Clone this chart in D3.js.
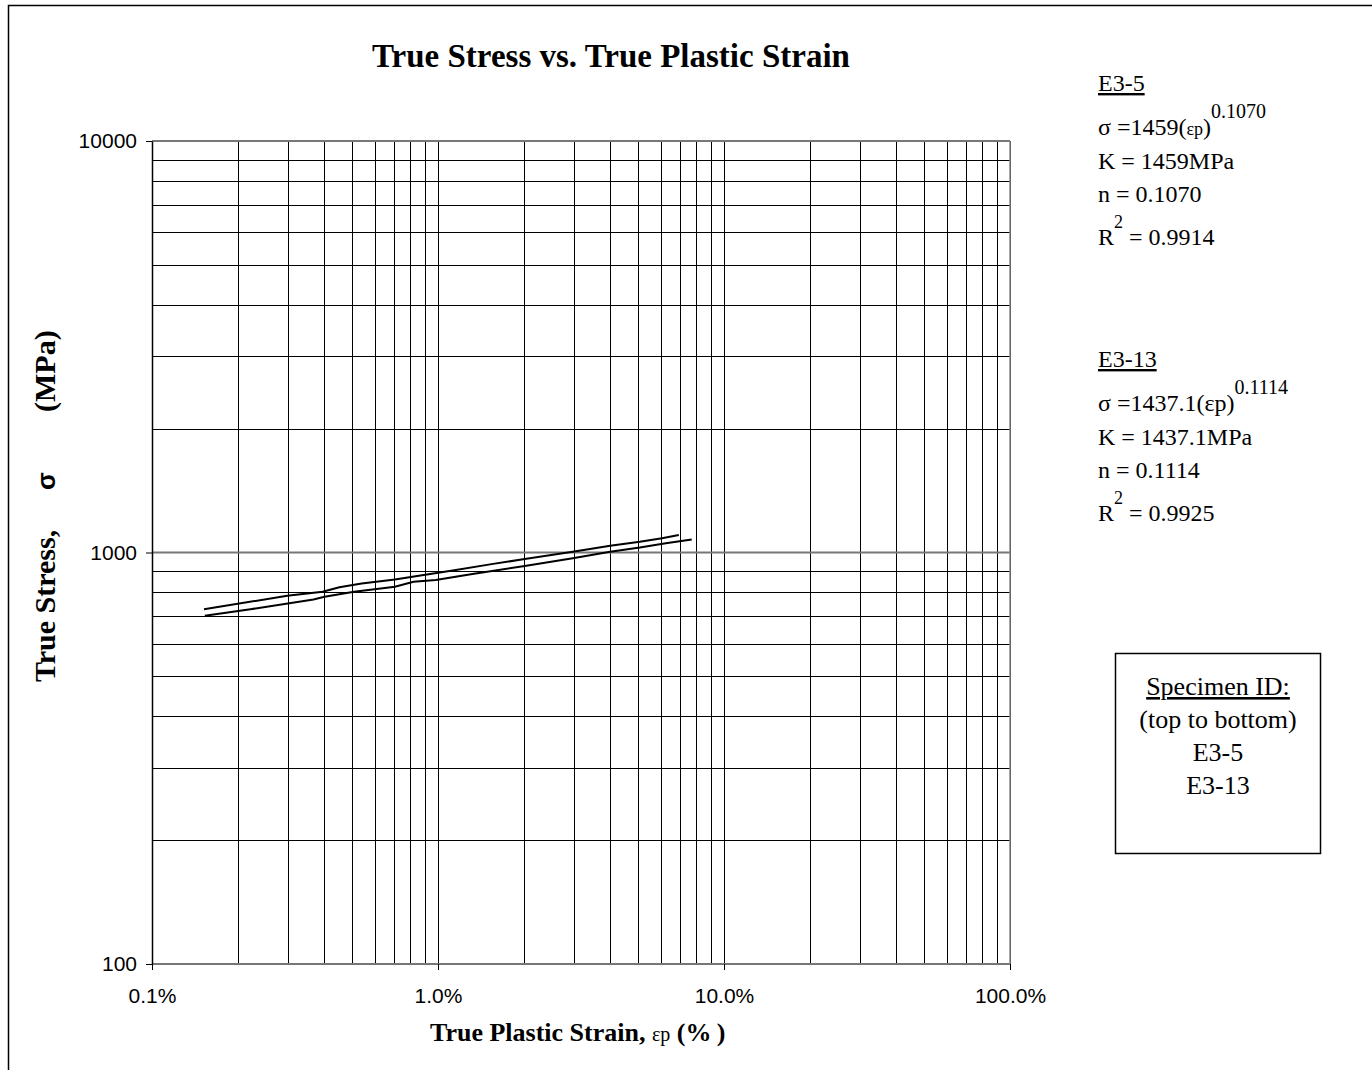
<!DOCTYPE html>
<html>
<head>
<meta charset="utf-8">
<script src="https://cdn.jsdelivr.net/npm/d3@7"></script>
<style>
body { margin: 0; background: #fff; }
svg { display: block; }
.serif { font-family: "Liberation Serif", "Times New Roman", serif; }
.sans { font-family: "Liberation Sans", Arial, sans-serif; }
</style>
</head>
<body>
<div id="chart"></div>
<script>
// strain values are fractions (0.001 = 0.1%), stress in MPa
var e35Strain = [0.00152, 0.00297, 0.00395, 0.00452, 0.00541, 0.00707, 0.00846, 0.0114, 0.0154, 0.0201, 0.0296, 0.0400, 0.0508, 0.0607, 0.0695];
var e35Stress = [728, 785, 803, 823, 841, 860, 877, 906, 937, 964, 1004, 1039, 1062, 1083, 1103];

var e313Strain = [0.00153, 0.00221, 0.00367, 0.00401, 0.00509, 0.00707, 0.00821, 0.00982, 0.0132, 0.0201, 0.0296, 0.0400, 0.0508, 0.0626, 0.0771];
var e313Stress = [702, 728, 769, 781, 803, 826, 849, 857, 887, 927, 968, 1004, 1028, 1053, 1076];

var xTicks = [0.001, 0.01, 0.1, 1];
var yTicks = [100, 1000, 10000];

var width = 1372, height = 1070;
var margin = {top: 141, right: 362, bottom: 106, left: 152};

var svg = d3.select("#chart")
	.append("svg")
	.attr("width", width)
	.attr("height", height);

// outer frame
svg.append("rect")
	.attr("x", 8.5).attr("y", 5.5)
	.attr("width", 1400).attr("height", 1100)
	.attr("fill", "none")
	.attr("stroke", "#000")
	.attr("stroke-width", 1.5);

var x = d3.scaleLog().domain([0.001, 1]).range([margin.left, width - margin.right]);
var y = d3.scaleLog().domain([100, 10000]).range([height - margin.bottom, margin.top]);

var x0 = x.range()[0], x1 = x.range()[1];
var y0 = y.range()[0], y1 = y.range()[1];

// gridlines
svg.append("g").selectAll("line")
	.data(x.ticks())
	.join("line")
	.attr("x1", function(d) { return Math.round(x(d)) + 0.5; })
	.attr("x2", function(d) { return Math.round(x(d)) + 0.5; })
	.attr("y1", y1).attr("y2", y0)
	.attr("stroke", "#000")
	.attr("stroke-width", 1);

svg.append("g").selectAll("line")
	.data(y.ticks().filter(function(d) { return yTicks.indexOf(d) < 0; }))
	.join("line")
	.attr("x1", x0).attr("x2", x1)
	.attr("y1", function(d) { return Math.round(y(d)) + 0.5; })
	.attr("y2", function(d) { return Math.round(y(d)) + 0.5; })
	.attr("stroke", "#000")
	.attr("stroke-width", 1);

// major horizontal lines are grey and heavier
svg.append("g").selectAll("line")
	.data(yTicks)
	.join("line")
	.attr("x1", x0).attr("x2", x1)
	.attr("y1", function(d) { return y(d); })
	.attr("y2", function(d) { return y(d); })
	.attr("stroke", "#777")
	.attr("stroke-width", 2);

svg.append("line")
	.attr("x1", x1).attr("x2", x1)
	.attr("y1", y1).attr("y2", y0)
	.attr("stroke", "#888")
	.attr("stroke-width", 1.5);

// axes
var axisBottom = d3.axisBottom(x).tickValues(xTicks).tickFormat(d3.format(".1%")).tickSize(6).tickSizeOuter(0);
var gx = svg.append("g")
	.attr("transform", "translate(0," + y0 + ")")
	.call(axisBottom);
gx.select(".domain").remove();
gx.selectAll("line").attr("stroke", "#000");
gx.selectAll("text")
	.attr("class", "sans")
	.attr("font-size", 21)
	.attr("fill", "#000")
	.attr("y", 39).attr("dy", 0);

var axisLeft = d3.axisLeft(y).tickValues(yTicks).tickFormat(d3.format("d")).tickSize(6).tickSizeOuter(0);
var gy = svg.append("g")
	.attr("transform", "translate(" + x0 + ",0)")
	.call(axisLeft);
gy.select(".domain")
	.attr("stroke", "#000")
	.attr("stroke-width", 1.5);
gy.selectAll("line").attr("stroke", "#000");
gy.selectAll("text")
	.attr("class", "sans")
	.attr("font-size", 21)
	.attr("fill", "#000")
	.attr("x", -15).attr("dy", "0.33em");

// curves
var line = d3.line()
	.x(function(d) { return x(d[0]); })
	.y(function(d) { return y(d[1]); });

var series = [
	d3.zip(e35Strain, e35Stress),
	d3.zip(e313Strain, e313Stress)
];

svg.append("g").selectAll("path")
	.data(series)
	.join("path")
	.attr("d", line)
	.attr("fill", "none")
	.attr("stroke", "#000")
	.attr("stroke-width", 2);

// title and axis labels
svg.append("text")
	.attr("class", "serif")
	.attr("x", 611).attr("y", 67)
	.attr("text-anchor", "middle")
	.attr("font-size", 33)
	.attr("font-weight", "bold")
	.text("True Stress vs. True Plastic Strain");

var xl = svg.append("text")
	.attr("class", "serif")
	.attr("x", 430).attr("y", 1041)
	.attr("font-size", 26)
	.attr("font-weight", "bold");
xl.append("tspan").text("True Plastic Strain, ");
xl.append("tspan").attr("font-size", 20).attr("font-weight", "normal").text("εp");
xl.append("tspan").text("  (%\u2009)");

// y label pieces are spread out as in the original
var yl = svg.append("text")
	.attr("class", "serif")
	.attr("transform", "translate(55,0) rotate(-90)")
	.attr("font-size", 30)
	.attr("font-weight", "bold");
yl.append("tspan").attr("x", -682).text("True Stress,");
yl.append("tspan").attr("class", "sans").attr("x", -490).attr("font-size", 26).text("σ");
yl.append("tspan").attr("x", -412).text("(MPa)");

// fit annotations
function fitBlock(top, id, k, n, r2, smallEps) {
	var g = svg.append("g").attr("class", "serif").attr("font-size", 24);
	g.append("text").attr("x", 1098).attr("y", top)
		.style("text-decoration", "underline").text(id);
	var eq = g.append("text").attr("x", 1098).attr("y", top + 44);
	eq.append("tspan").text("σ =" + k + "(");
	eq.append("tspan").attr("font-size", smallEps ? 18 : 24).text("εp");
	eq.append("tspan").text(")");
	eq.append("tspan").attr("font-size", 20).attr("dy", -17).text(n);
	g.append("text").attr("x", 1098).attr("y", top + 78).text("K = " + k + "MPa");
	g.append("text").attr("x", 1098).attr("y", top + 111).text("n = " + n);
	var r = g.append("text").attr("x", 1098).attr("y", top + 154);
	r.append("tspan").text("R");
	r.append("tspan").attr("font-size", 18).attr("dy", -17).text("2");
	r.append("tspan").attr("dy", 17).text(" = " + r2);
}
fitBlock(91, "E3-5", "1459", "0.1070", "0.9914", true);
fitBlock(367, "E3-13", "1437.1", "0.1114", "0.9925", false);

// specimen box
svg.append("rect")
	.attr("x", 1115.5).attr("y", 653.5)
	.attr("width", 205).attr("height", 200)
	.attr("fill", "none")
	.attr("stroke", "#000")
	.attr("stroke-width", 1.5);

var boxLines = ["Specimen ID:", "(top to bottom)", "E3-5", "E3-13"];
svg.append("g").attr("class", "serif").attr("font-size", 26)
	.selectAll("text")
	.data(boxLines)
	.join("text")
	.attr("x", 1218)
	.attr("y", function(d, i) { return 695 + i * 33; })
	.attr("text-anchor", "middle")
	.style("text-decoration", function(d, i) { return i === 0 ? "underline" : null; })
	.text(function(d) { return d; });
</script>
</body>
</html>
